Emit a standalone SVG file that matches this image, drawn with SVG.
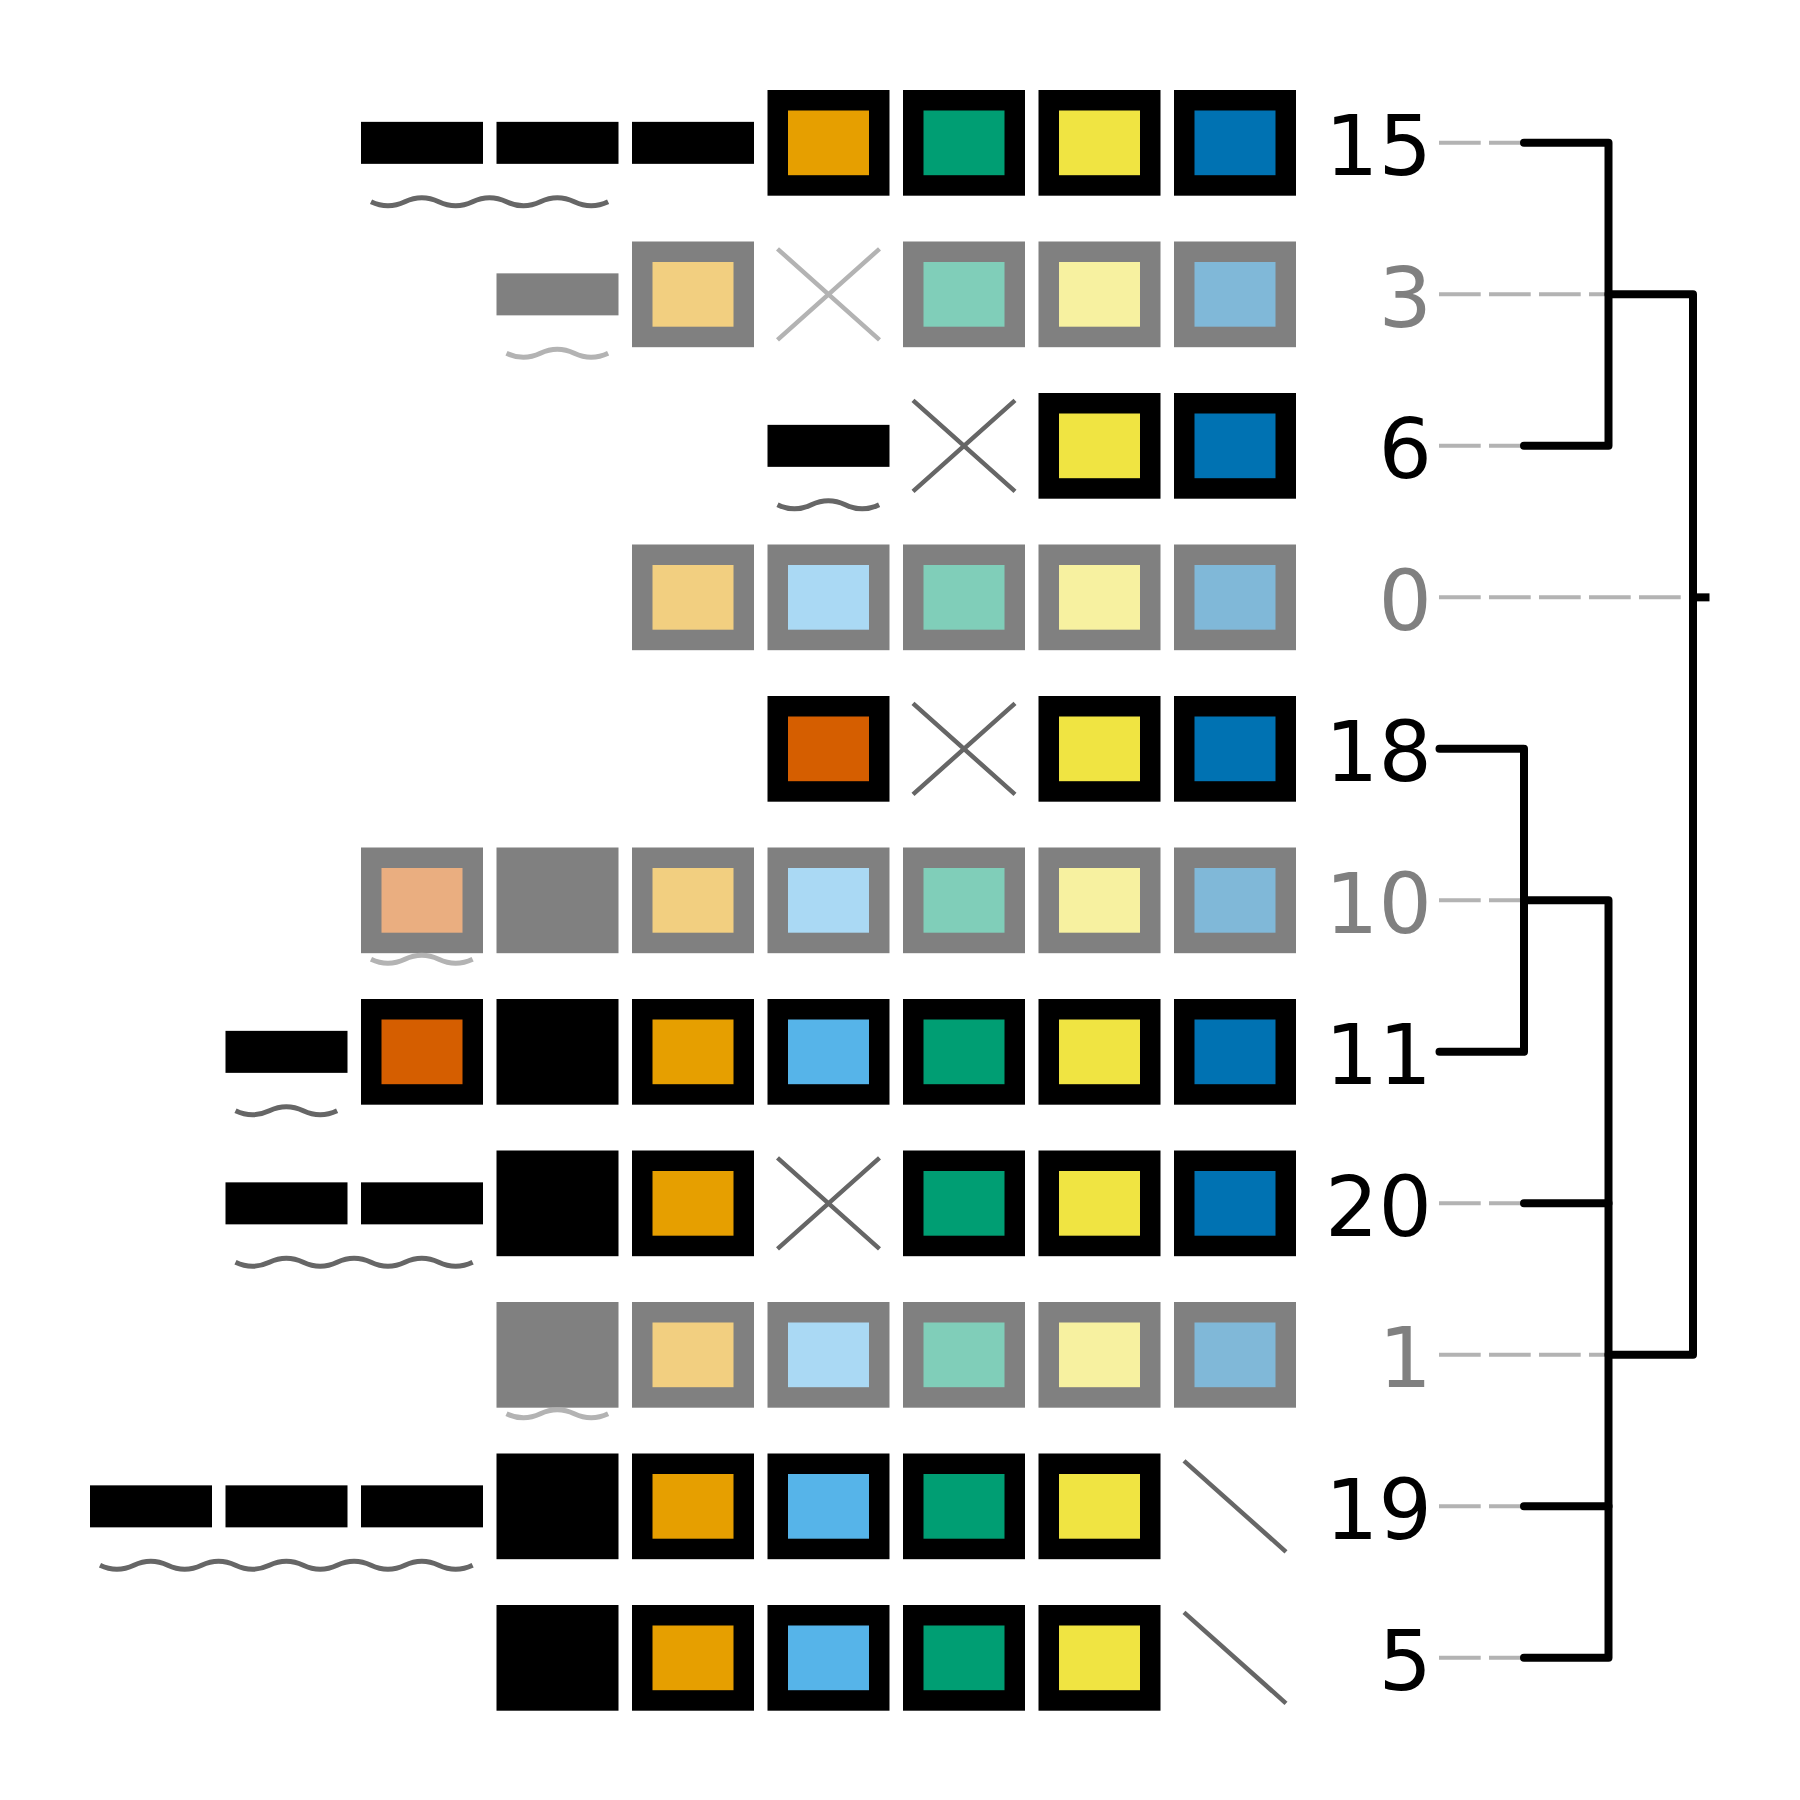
<svg xmlns="http://www.w3.org/2000/svg" width="1800" height="1800" viewBox="0 0 1800 1800">
<style>
.bk{fill:#000}.gy{fill:#808080}
.b{stroke:#000;stroke-width:20.5}.g{stroke:#808080;stroke-width:20.5}
.or{fill:#E69F00}.gr{fill:#009E73}.ye{fill:#F0E442}.bl{fill:#0072B2}.sk{fill:#56B4E9}.ve{fill:#D55E00}
.lor{fill:#F2CF80}.lgr{fill:#80CEB9}.lye{fill:#F7F1A0}.lbl{fill:#80B8D8}.lsk{fill:#AAD9F4}.lve{fill:#EAAE80}
.xd{stroke:#666;stroke-width:4.5;fill:none}.xl{stroke:#b3b3b3;stroke-width:4.5;fill:none}
.wd{stroke:#666;stroke-width:5;fill:none}.wl{stroke:#b3b3b3;stroke-width:5;fill:none}
.lab{font-family:"DejaVu Sans","Liberation Sans",sans-serif;font-size:84px;text-anchor:end}
.lk{fill:#000}.lg{fill:#808080}
.dash{stroke:#b3b3b3;stroke-width:4;stroke-dasharray:41.7 8.3;fill:none}
.den{stroke:#000;stroke-width:8;fill:none;stroke-linecap:round;stroke-linejoin:round}
</style>

<g id="row-15">
<rect class="bk" x="361" y="121.85" width="122" height="42"/>
<rect class="bk" x="496.5" y="121.85" width="122" height="42"/>
<rect class="bk" x="632" y="121.85" width="122" height="42"/>
<rect class="b or" x="777.75" y="100.25" width="101.5" height="85.2"/>
<rect class="b gr" x="913.25" y="100.25" width="101.5" height="85.2"/>
<rect class="b ye" x="1048.75" y="100.25" width="101.5" height="85.2"/>
<rect class="b bl" x="1184.25" y="100.25" width="101.5" height="85.2"/>
<path class="wd" d="M371,201.85q16.94,8 33.875,0t33.875,0t33.875,0t33.875,0t33.875,0t33.875,0t33.875,0"/>
<text class="lab lk" x="1432" y="175">15</text>
</g>

<g id="row-3">
<rect class="gy" x="496.5" y="273.35" width="122" height="42"/>
<rect class="g lor" x="642.25" y="251.75" width="101.5" height="85.2"/>
<path class="xl" d="M777.5,248.85L879.5,339.85M777.5,339.85L879.5,248.85"/>
<rect class="g lgr" x="913.25" y="251.75" width="101.5" height="85.2"/>
<rect class="g lye" x="1048.75" y="251.75" width="101.5" height="85.2"/>
<rect class="g lbl" x="1184.25" y="251.75" width="101.5" height="85.2"/>
<path class="wl" d="M506.5,353.35q16.94,8 33.875,0t33.875,0t33.875,0"/>
<text class="lab lg" x="1432" y="326.5">3</text>
</g>

<g id="row-6">
<rect class="bk" x="767.5" y="424.85" width="122" height="42"/>
<path class="xd" d="M913,400.35L1015,491.35M913,491.35L1015,400.35"/>
<rect class="b ye" x="1048.75" y="403.25" width="101.5" height="85.2"/>
<rect class="b bl" x="1184.25" y="403.25" width="101.5" height="85.2"/>
<path class="wd" d="M777.5,504.85q16.94,8 33.875,0t33.875,0t33.875,0"/>
<text class="lab lk" x="1432" y="478">6</text>
</g>

<g id="row-0">
<rect class="g lor" x="642.25" y="554.75" width="101.5" height="85.2"/>
<rect class="g lsk" x="777.75" y="554.75" width="101.5" height="85.2"/>
<rect class="g lgr" x="913.25" y="554.75" width="101.5" height="85.2"/>
<rect class="g lye" x="1048.75" y="554.75" width="101.5" height="85.2"/>
<rect class="g lbl" x="1184.25" y="554.75" width="101.5" height="85.2"/>
<text class="lab lg" x="1432" y="629.5">0</text>
</g>

<g id="row-18">
<rect class="b ve" x="777.75" y="706.25" width="101.5" height="85.2"/>
<path class="xd" d="M913,703.35L1015,794.35M913,794.35L1015,703.35"/>
<rect class="b ye" x="1048.75" y="706.25" width="101.5" height="85.2"/>
<rect class="b bl" x="1184.25" y="706.25" width="101.5" height="85.2"/>
<text class="lab lk" x="1432" y="781">18</text>
</g>

<g id="row-10">
<rect class="g lve" x="371.25" y="857.75" width="101.5" height="85.2"/>
<rect class="gy" x="496.5" y="847.5" width="122" height="105.7"/>
<rect class="g lor" x="642.25" y="857.75" width="101.5" height="85.2"/>
<rect class="g lsk" x="777.75" y="857.75" width="101.5" height="85.2"/>
<rect class="g lgr" x="913.25" y="857.75" width="101.5" height="85.2"/>
<rect class="g lye" x="1048.75" y="857.75" width="101.5" height="85.2"/>
<rect class="g lbl" x="1184.25" y="857.75" width="101.5" height="85.2"/>
<path class="wl" d="M371,959.35q16.94,8 33.875,0t33.875,0t33.875,0"/>
<text class="lab lg" x="1432" y="932.5">10</text>
</g>

<g id="row-11">
<rect class="bk" x="225.5" y="1030.85" width="122" height="42"/>
<rect class="b ve" x="371.25" y="1009.25" width="101.5" height="85.2"/>
<rect class="bk" x="496.5" y="999" width="122" height="105.7"/>
<rect class="b or" x="642.25" y="1009.25" width="101.5" height="85.2"/>
<rect class="b sk" x="777.75" y="1009.25" width="101.5" height="85.2"/>
<rect class="b gr" x="913.25" y="1009.25" width="101.5" height="85.2"/>
<rect class="b ye" x="1048.75" y="1009.25" width="101.5" height="85.2"/>
<rect class="b bl" x="1184.25" y="1009.25" width="101.5" height="85.2"/>
<path class="wd" d="M235.5,1110.85q16.94,8 33.875,0t33.875,0t33.875,0"/>
<text class="lab lk" x="1432" y="1084">11</text>
</g>

<g id="row-20">
<rect class="bk" x="225.5" y="1182.35" width="122" height="42"/>
<rect class="bk" x="361" y="1182.35" width="122" height="42"/>
<rect class="bk" x="496.5" y="1150.5" width="122" height="105.7"/>
<rect class="b or" x="642.25" y="1160.75" width="101.5" height="85.2"/>
<path class="xd" d="M777.5,1157.85L879.5,1248.85M777.5,1248.85L879.5,1157.85"/>
<rect class="b gr" x="913.25" y="1160.75" width="101.5" height="85.2"/>
<rect class="b ye" x="1048.75" y="1160.75" width="101.5" height="85.2"/>
<rect class="b bl" x="1184.25" y="1160.75" width="101.5" height="85.2"/>
<path class="wd" d="M235.5,1262.35q16.94,8 33.875,0t33.875,0t33.875,0t33.875,0t33.875,0t33.875,0t33.875,0"/>
<text class="lab lk" x="1432" y="1235.5">20</text>
</g>

<g id="row-1">
<rect class="gy" x="496.5" y="1302" width="122" height="105.7"/>
<rect class="g lor" x="642.25" y="1312.25" width="101.5" height="85.2"/>
<rect class="g lsk" x="777.75" y="1312.25" width="101.5" height="85.2"/>
<rect class="g lgr" x="913.25" y="1312.25" width="101.5" height="85.2"/>
<rect class="g lye" x="1048.75" y="1312.25" width="101.5" height="85.2"/>
<rect class="g lbl" x="1184.25" y="1312.25" width="101.5" height="85.2"/>
<path class="wl" d="M506.5,1413.85q16.94,8 33.875,0t33.875,0t33.875,0"/>
<text class="lab lg" x="1432" y="1387">1</text>
</g>

<g id="row-19">
<rect class="bk" x="90" y="1485.35" width="122" height="42"/>
<rect class="bk" x="225.5" y="1485.35" width="122" height="42"/>
<rect class="bk" x="361" y="1485.35" width="122" height="42"/>
<rect class="bk" x="496.5" y="1453.5" width="122" height="105.7"/>
<rect class="b or" x="642.25" y="1463.75" width="101.5" height="85.2"/>
<rect class="b sk" x="777.75" y="1463.75" width="101.5" height="85.2"/>
<rect class="b gr" x="913.25" y="1463.75" width="101.5" height="85.2"/>
<rect class="b ye" x="1048.75" y="1463.75" width="101.5" height="85.2"/>
<path class="xd" d="M1184,1460.85L1286,1551.85"/>
<path class="wd" d="M100,1565.35q16.94,8 33.875,0t33.875,0t33.875,0t33.875,0t33.875,0t33.875,0t33.875,0t33.875,0t33.875,0t33.875,0t33.875,0"/>
<text class="lab lk" x="1432" y="1538.5">19</text>
</g>

<g id="row-5">
<rect class="bk" x="496.5" y="1605" width="122" height="105.7"/>
<rect class="b or" x="642.25" y="1615.25" width="101.5" height="85.2"/>
<rect class="b sk" x="777.75" y="1615.25" width="101.5" height="85.2"/>
<rect class="b gr" x="913.25" y="1615.25" width="101.5" height="85.2"/>
<rect class="b ye" x="1048.75" y="1615.25" width="101.5" height="85.2"/>
<path class="xd" d="M1184,1612.35L1286,1703.35"/>
<text class="lab lk" x="1432" y="1690">5</text>
</g>

<g id="connectors">
<path class="dash" d="M1439,142.85H1524M1439,294.35H1608.5M1439,445.85H1524M1439,597.35H1693M1439,900.35H1524M1439,1203.35H1524M1439,1354.85H1608.5M1439,1506.35H1524M1439,1657.85H1524"/>
<path class="den" d="M1524,142.85H1608.5V445.85H1524"/>
<path class="den" d="M1608.5,294.35H1693V1354.85H1608.5"/>
<path class="den" d="M1439.5,748.85H1524V1051.85H1439.5"/>
<path class="den" d="M1524,900.35H1608.5V1657.85H1524"/>
<path class="den" d="M1524,1203.35H1608.5M1524,1506.35H1608.5"/>
<path d="M1693,597.35H1709.5" stroke="#000" stroke-width="8"/>
</g>
</svg>
